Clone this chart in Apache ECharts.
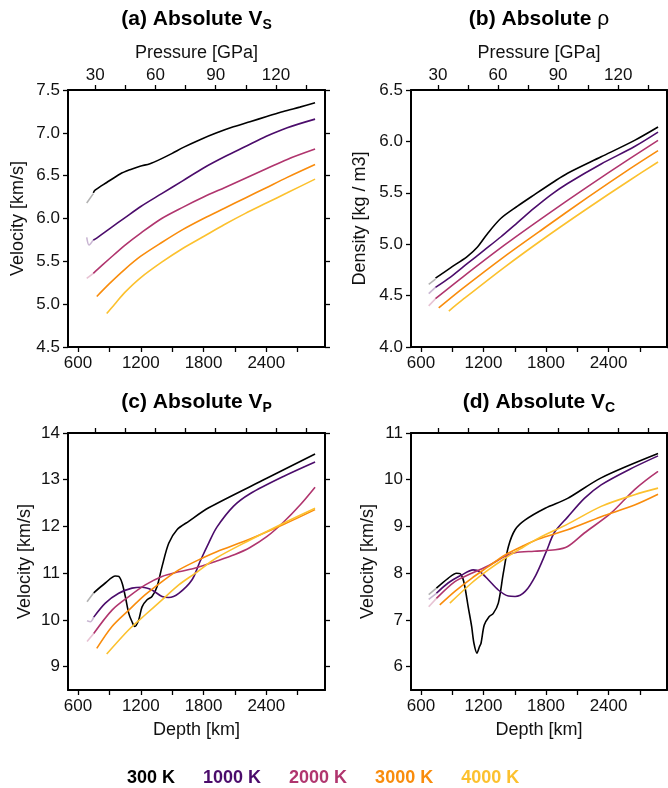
<!DOCTYPE html>
<html><head><meta charset="utf-8">
<script src="https://cdn.jsdelivr.net/npm/echarts@6/dist/echarts.min.js"></script>
<style>html,body{margin:0;padding:0;background:#fff}#chart{width:668px;height:788px}</style>
</head><body><div id="chart"></div>
<script>
const FONT = '"Liberation Sans", Arial, Helvetica, sans-serif';
const TEMPS = ['300 K', '1000 K', '2000 K', '3000 K', '4000 K'];
const COLORS = ['#000000', '#4b0c6b', '#b0356e', '#f98c0c', '#fcc12e'];
const DEPTH_TICKS = [600, 900, 1200, 1500, 1800, 2100, 2400, 2700];
const DEPTH_LABELS = [600, 1200, 1800, 2400];
const PRESSURE_TICKS = [30, 45, 60, 75, 90, 105, 120, 135];
const PRESSURE_LABELS = [30, 60, 90, 120];

// (a) Absolute Vs [km/s] vs depth [km]
const VS_300K_FADED = [[683, 6.18], [746, 6.29]];
const VS_300K = [[746, 6.30], [763, 6.33], [874, 6.42], [1002, 6.52], [1097, 6.57], [1193, 6.61], [1288, 6.64], [1384, 6.69], [1500, 6.76], [1607, 6.83], [1766, 6.92], [1926, 7.00], [2085, 7.07], [2244, 7.13], [2404, 7.19], [2563, 7.25], [2720, 7.30], [2866, 7.35]];
const VS_1000K_FADED = [[683, 5.78], [705, 5.69], [746, 5.75]];
const VS_1000K = [[746, 5.75], [763, 5.76], [900, 5.88], [1050, 6.01], [1200, 6.14], [1400, 6.29], [1600, 6.44], [1800, 6.59], [2000, 6.72], [2200, 6.84], [2400, 6.96], [2600, 7.06], [2866, 7.16]];
const VS_2000K_FADED = [[683, 5.30], [746, 5.36]];
const VS_2000K = [[746, 5.36], [763, 5.38], [900, 5.53], [1050, 5.69], [1200, 5.83], [1400, 6.00], [1600, 6.13], [1800, 6.25], [2000, 6.36], [2200, 6.47], [2400, 6.58], [2600, 6.69], [2866, 6.81]];
const VS_3000K = [[779, 5.09], [900, 5.24], [1050, 5.41], [1200, 5.56], [1400, 5.72], [1600, 5.87], [1800, 6.00], [2000, 6.12], [2200, 6.24], [2400, 6.36], [2600, 6.48], [2866, 6.63]];
const VS_4000K = [[874, 4.89], [950, 5.00], [1050, 5.14], [1200, 5.31], [1400, 5.49], [1600, 5.65], [1800, 5.79], [2000, 5.93], [2200, 6.06], [2400, 6.18], [2600, 6.30], [2866, 6.46]];

// (b) Absolute density [kg / m3]
const RHO_300K_FADED = [[674, 4.61], [739, 4.66]];
const RHO_300K = [[739, 4.67], [883, 4.77], [1043, 4.88], [1140, 4.97], [1236, 5.10], [1365, 5.25], [1526, 5.37], [1686, 5.48], [1879, 5.61], [2007, 5.69], [2329, 5.85], [2650, 6.01], [2875, 6.14]];
const RHO_1000K_FADED = [[674, 4.52], [739, 4.58]];
const RHO_1000K = [[739, 4.58], [883, 4.68], [1043, 4.81], [1204, 4.94], [1365, 5.07], [1526, 5.21], [1686, 5.35], [1847, 5.48], [2007, 5.59], [2329, 5.78], [2650, 5.95], [2875, 6.09]];
const RHO_2000K_FADED = [[674, 4.40], [739, 4.47]];
const RHO_2000K = [[739, 4.47], [1000, 4.68], [1400, 4.99], [1800, 5.28], [2200, 5.56], [2600, 5.83], [2875, 6.01]];
const RHO_3000K = [[770, 4.38], [1000, 4.57], [1400, 4.88], [1800, 5.17], [2200, 5.455], [2600, 5.73], [2875, 5.91]];
const RHO_4000K = [[867, 4.35], [1000, 4.46], [1400, 4.775], [1800, 5.07], [2200, 5.35], [2600, 5.62], [2875, 5.80]];

// (c) Absolute Vp [km/s]
const VP_300K_FADED = [[686, 10.39], [750, 10.58]];
const VP_300K = [[750, 10.58], [861, 10.79], [957, 10.94], [989, 10.93], [1021, 10.79], [1052, 10.50], [1085, 10.14], [1116, 9.96], [1142, 9.86], [1180, 10.0], [1212, 10.28], [1260, 10.43], [1307, 10.50], [1355, 10.71], [1403, 11.14], [1467, 11.64], [1546, 11.93], [1658, 12.11], [1849, 12.40], [2404, 13.03], [2866, 13.55]];
const VP_1000K_FADED = [[686, 9.98], [718, 9.96], [750, 10.06]];
const VP_1000K = [[750, 10.06], [861, 10.36], [989, 10.57], [1116, 10.68], [1212, 10.70], [1307, 10.64], [1403, 10.50], [1467, 10.48], [1563, 10.57], [1690, 10.86], [1766, 11.25], [1850, 11.65], [1926, 11.98], [2085, 12.43], [2244, 12.70], [2563, 13.07], [2866, 13.38]];
const VP_2000K_FADED = [[686, 9.54], [750, 9.71]];
const VP_2000K = [[750, 9.71], [925, 10.21], [1085, 10.50], [1243, 10.75], [1403, 10.93], [1563, 11.03], [1722, 11.11], [1926, 11.26], [2100, 11.40], [2244, 11.55], [2404, 11.78], [2563, 12.09], [2727, 12.47], [2866, 12.84]];
const VP_3000K = [[779, 9.39], [925, 9.86], [1085, 10.21], [1243, 10.54], [1403, 10.82], [1563, 11.07], [1785, 11.32], [1926, 11.46], [2244, 11.73], [2563, 12.04], [2866, 12.36]];
const VP_4000K = [[874, 9.27], [1085, 9.79], [1243, 10.11], [1403, 10.43], [1563, 10.75], [1722, 11.0], [1926, 11.33], [2244, 11.71], [2563, 12.07], [2866, 12.39]];

// (d) Absolute Vc [km/s]
const VC_300K_FADED = [[674, 7.54], [748, 7.68]];
const VC_300K = [[748, 7.68], [860, 7.89], [941, 8.00], [975, 7.99], [1000, 7.90], [1021, 7.71], [1053, 7.28], [1086, 6.86], [1108, 6.50], [1137, 6.29], [1160, 6.42], [1176, 6.50], [1207, 6.89], [1253, 7.07], [1294, 7.14], [1342, 7.36], [1390, 8.0], [1439, 8.57], [1503, 8.93], [1600, 9.14], [1792, 9.39], [2007, 9.60], [2329, 10.04], [2875, 10.56]];
const VC_1000K_FADED = [[674, 7.44], [748, 7.57]];
const VC_1000K = [[748, 7.57], [860, 7.79], [989, 7.96], [1101, 8.07], [1166, 8.03], [1246, 7.86], [1342, 7.64], [1439, 7.51], [1503, 7.50], [1600, 7.61], [1700, 7.95], [1800, 8.45], [1880, 8.87], [2007, 9.20], [2168, 9.60], [2329, 9.89], [2600, 10.22], [2875, 10.51]];
const VC_2000K_FADED = [[674, 7.28], [748, 7.46]];
const VC_2000K = [[748, 7.46], [925, 7.82], [1086, 8.0], [1246, 8.16], [1407, 8.36], [1503, 8.44], [1686, 8.47], [1889, 8.50], [2007, 8.57], [2168, 8.86], [2426, 9.29], [2650, 9.79], [2875, 10.18]];
const VC_3000K = [[780, 7.32], [925, 7.61], [1086, 7.89], [1246, 8.14], [1407, 8.39], [1568, 8.57], [1728, 8.73], [2007, 8.93], [2329, 9.21], [2650, 9.46], [2875, 9.69]];
const VC_4000K = [[877, 7.36], [1086, 7.79], [1246, 8.07], [1407, 8.32], [1568, 8.54], [1728, 8.75], [2007, 9.05], [2329, 9.43], [2650, 9.68], [2875, 9.82]];

const PANELS = [
  { grid: { left: 68, top: 90, width: 257, height: 257 }, yMin: 4.5, yMax: 7.5, yTicks: [4.5, 5, 5.5, 6, 6.5, 7, 7.5], dec: 1,
    yName: 'Velocity [km/s]', yGap: 41, title: '{t|(a) Absolute V}{s|S}', topLabels: true, bottomName: false,
    curves: [VS_300K, VS_1000K, VS_2000K, VS_3000K, VS_4000K], faded: [VS_300K_FADED, VS_1000K_FADED, VS_2000K_FADED, null, null] },
  { grid: { left: 411, top: 90, width: 256, height: 257 }, yMin: 4.0, yMax: 6.5, yTicks: [4, 4.5, 5, 5.5, 6, 6.5], dec: 1,
    yName: 'Density [kg / m3]', yGap: 42, title: '{t|(b) Absolute }{r|ρ}', topLabels: true, bottomName: false,
    curves: [RHO_300K, RHO_1000K, RHO_2000K, RHO_3000K, RHO_4000K], faded: [RHO_300K_FADED, RHO_1000K_FADED, RHO_2000K_FADED, null, null] },
  { grid: { left: 68, top: 433, width: 257, height: 257 }, yMin: 8.5, yMax: 14, yTicks: [9, 10, 11, 12, 13, 14], dec: 0,
    yName: 'Velocity [km/s]', yGap: 34, title: '{t|(c) Absolute V}{s|P}', topLabels: false, bottomName: true,
    curves: [VP_300K, VP_1000K, VP_2000K, VP_3000K, VP_4000K], faded: [VP_300K_FADED, VP_1000K_FADED, VP_2000K_FADED, null, null] },
  { grid: { left: 411, top: 433, width: 256, height: 257 }, yMin: 5.5, yMax: 11, yTicks: [6, 7, 8, 9, 10, 11], dec: 0,
    yName: 'Velocity [km/s]', yGap: 34, title: '{t|(d) Absolute V}{s|C}', topLabels: false, bottomName: true,
    curves: [VC_300K, VC_1000K, VC_2000K, VC_3000K, VC_4000K], faded: [VC_300K_FADED, VC_1000K_FADED, VC_2000K_FADED, null, null] }
];

const axisLine = { show: true, onZero: false, lineStyle: { color: '#000', width: 2 } };
const tickStyle = { lineStyle: { color: '#000', width: 1.3 } };
const labelText = { fontFamily: FONT, fontSize: 17, color: '#111' };
const nameText = { fontFamily: FONT, fontSize: 18, color: '#111' };

const grids = [], xAxes = [], yAxes = [], series = [], titles = [];
PANELS.forEach((p, i) => {
  grids.push(Object.assign({ containLabel: false }, p.grid));
  const cx = p.grid.left + p.grid.width / 2;
  titles.push({
    text: p.title, left: cx, top: p.grid.top - (i < 2 ? 84 : 44), textAlign: 'center', padding: 0,
    textStyle: { rich: {
      t: { fontFamily: FONT, fontSize: 21, fontWeight: 'bold', color: '#000', lineHeight: 26, verticalAlign: 'middle' },
      s: { fontFamily: FONT, fontSize: 14, fontWeight: 'bold', color: '#000', lineHeight: 13, verticalAlign: 'bottom' },
      r: { fontFamily: FONT, fontSize: 21, fontWeight: 'normal', color: '#000', lineHeight: 26, verticalAlign: 'middle' }
    } }
  });
  xAxes.push({
    gridIndex: i, type: 'value', position: 'bottom', min: 504, max: 2961,
    axisLine, splitLine: { show: false },
    axisTick: Object.assign({ show: true, inside: false, length: 5, customValues: DEPTH_TICKS }, tickStyle),
    axisLabel: Object.assign({ show: true, margin: 8, customValues: DEPTH_LABELS, formatter: v => String(Math.round(v)) }, labelText),
    name: p.bottomName ? 'Depth [km]' : '', nameLocation: 'middle', nameGap: 31, nameTextStyle: nameText
  });
  xAxes.push({
    gridIndex: i, type: 'value', position: 'top', min: 16.5, max: 144.4,
    axisLine, splitLine: { show: false },
    axisTick: Object.assign({ show: true, inside: false, length: 5, customValues: PRESSURE_TICKS }, tickStyle),
    axisLabel: Object.assign({ show: p.topLabels, margin: 6, customValues: PRESSURE_LABELS, formatter: v => String(Math.round(v)) }, labelText),
    name: p.topLabels ? 'Pressure [GPa]' : '', nameLocation: 'middle', nameGap: 28, nameTextStyle: nameText
  });
  yAxes.push({
    gridIndex: i, type: 'value', position: 'left', min: p.yMin, max: p.yMax,
    axisLine, splitLine: { show: false },
    axisTick: Object.assign({ show: true, inside: false, length: 5, customValues: p.yTicks }, tickStyle),
    axisLabel: Object.assign({ show: true, margin: 8, customValues: p.yTicks, formatter: v => Number(v).toFixed(p.dec) }, labelText),
    name: p.yName, nameLocation: 'middle', nameGap: p.yGap, nameRotate: 90, nameTextStyle: nameText
  });
  yAxes.push({
    gridIndex: i, type: 'value', position: 'right', min: p.yMin, max: p.yMax,
    axisLine, splitLine: { show: false },
    axisTick: Object.assign({ show: true, inside: false, length: 5, customValues: p.yTicks }, tickStyle),
    axisLabel: { show: false }
  });
  p.curves.forEach((data, k) => {
    const f = p.faded[k];
    if (f) {
      series.push({ type: 'line', name: TEMPS[k] + ' (faded)', xAxisIndex: 2 * i, yAxisIndex: 2 * i, data: f,
        symbol: 'none', smooth: 0.3, silent: true, z: 2,
        lineStyle: { color: COLORS[k], width: 1.6, opacity: 0.3 }, itemStyle: { color: COLORS[k] } });
    }
    series.push({ type: 'line', name: TEMPS[k], xAxisIndex: 2 * i, yAxisIndex: 2 * i, data,
      symbol: 'none', smooth: 0.3, silent: true, z: 3 + k,
      lineStyle: { color: COLORS[k], width: 1.6 }, itemStyle: { color: COLORS[k] } });
  });
});

const chart = echarts.init(document.getElementById('chart'), null, { renderer: 'canvas' });
chart.setOption({
  animation: false,
  backgroundColor: '#fff',
  title: titles,
  grid: grids,
  xAxis: xAxes,
  yAxis: yAxes,
  legend: {
    top: 764, left: 117, icon: 'none', itemWidth: 0, itemHeight: 10, itemGap: 23,
    selectedMode: false,
    textStyle: { fontFamily: FONT, fontSize: 18, fontWeight: 'bold' },
    data: TEMPS.map((t, k) => ({ name: t, textStyle: { color: COLORS[k], fontFamily: FONT, fontSize: 18, fontWeight: 'bold' } }))
  },
  series
});
</script>
</body></html>
